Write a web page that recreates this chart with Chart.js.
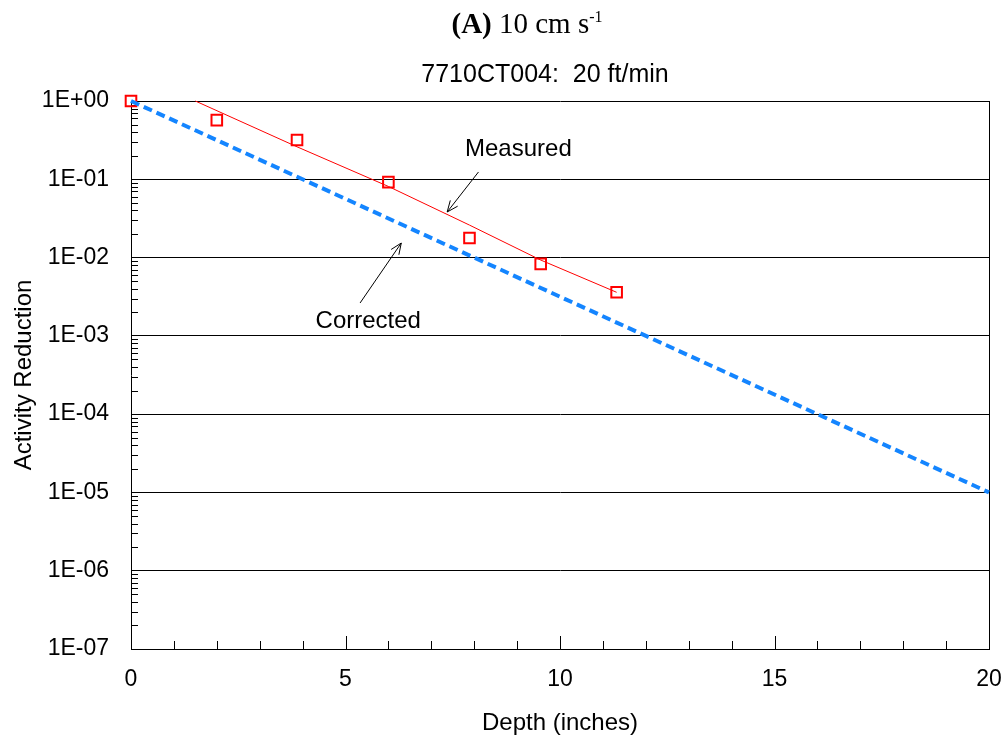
<!DOCTYPE html>
<html>
<head>
<meta charset="utf-8">
<script src="https://cdn.jsdelivr.net/npm/chart.js@4.4.0/dist/chart.umd.min.js"></script>
<style>
  html, body { margin: 0; padding: 0; background: #fff; overflow: hidden; }
  #wrap { position: relative; width: 1007px; height: 742px; }
  #chart { position: absolute; left: 0; top: 0; }
  .head { position: absolute; left: 0; white-space: nowrap; text-align: center; line-height: 1; color: #000; }
  #title { top: 9px; width: 1054px; font-family: "Liberation Serif", "Times New Roman", serif; font-size: 29px; }
  #title b { font-weight: bold; }
  #title .sup { font-size: 16px; position: relative; top: -11px; }
  #subtitle { top: 61px; width: 1090px; font-family: "Liberation Sans", Arial, sans-serif; font-size: 25px; }
</style>
</head>
<body>
<div id="wrap">
  <canvas id="chart" width="1007" height="742"></canvas>
  <div id="title" class="head"><b>(A)</b> 10 cm s<span class="sup">-1</span></div>
  <div id="subtitle" class="head">7710CT004:&nbsp; 20 ft/min</div>
</div>
<script>
// measured activity (squares)
const depthMeasured = [0, 2.0, 3.87, 6.0, 7.89, 9.55, 11.32];
const activityMeasured = [1.0, 0.57, 0.318, 0.092, 0.0178, 0.0083, 0.0036];

// fitted line through measured data (thin red)
const depthFit = [1.5, 3.87, 6.0, 7.89, 9.55, 11.32];
const activityFit = [1.0, 0.26, 0.081, 0.026, 0.0093, 0.0036];

// corrected curve (blue dashed)
const depthCorrected = [0, 20];
const activityCorrected = [1.0, 1e-5];

// axis ticks
const xTickValues = [0, 5, 10, 15, 20];
const yTickValues = [1e-7, 1e-6, 1e-5, 1e-4, 1e-3, 1e-2, 1e-1, 1];
const yTickLabels = ['1E-07', '1E-06', '1E-05', '1E-04', '1E-03', '1E-02', '1E-01', '1E+00'];

// annotation labels with arrows (data coordinates)
const noteText = ['Measured', 'Corrected'];
const noteTextX = [9.03, 5.53];
const noteTextY = [0.244, 0.00155];
const noteTailX = [8.10, 5.34];
const noteTailY = [0.124, 0.00263];
const noteTipX = [7.37, 6.30];
const noteTipY = [0.0382, 0.01535];

const sans = '"Liberation Sans", Arial, sans-serif';

function pts(xs, ys) {
    return xs.map((x, i) => ({ x: x, y: ys[i] }));
}

// inward ticks, right border, arrows and labels
const decorations = {
    id: 'decorations',
    beforeDatasetsDraw(chart) {
        const { ctx, chartArea: a, scales: { x, y } } = chart;
        ctx.save();
        ctx.strokeStyle = '#000';
        ctx.lineWidth = 1;
        ctx.beginPath();
        const r = Math.round(a.right) + 0.5;
        ctx.moveTo(r, a.top);
        ctx.lineTo(r, a.bottom);
        for (let v = 0; v <= 20; v++) {
            const px = Math.round(x.getPixelForValue(v)) + 0.5;
            const len = v % 5 === 0 ? 13 : 8;
            ctx.moveTo(px, a.bottom);
            ctx.lineTo(px, a.bottom - len);
        }
        for (let d = -7; d < 0; d++) {
            for (let k = 2; k <= 9; k++) {
                const py = Math.round(y.getPixelForValue(k * Math.pow(10, d))) + 0.5;
                ctx.moveTo(a.left, py);
                ctx.lineTo(a.left + 7, py);
            }
        }
        ctx.stroke();
        ctx.restore();
    },
    afterDatasetsDraw(chart) {
        const { ctx, scales: { x, y } } = chart;
        ctx.save();
        ctx.strokeStyle = '#000';
        ctx.fillStyle = '#000';
        ctx.lineWidth = 1;
        ctx.font = '24px ' + sans;
        ctx.textAlign = 'center';
        ctx.textBaseline = 'middle';
        noteText.forEach((t, i) => {
            ctx.fillText(t, x.getPixelForValue(noteTextX[i]), y.getPixelForValue(noteTextY[i]));
            const x0 = x.getPixelForValue(noteTailX[i]), y0 = y.getPixelForValue(noteTailY[i]);
            const x1 = x.getPixelForValue(noteTipX[i]), y1 = y.getPixelForValue(noteTipY[i]);
            const ang = Math.atan2(y1 - y0, x1 - x0);
            ctx.beginPath();
            ctx.moveTo(x0, y0);
            ctx.lineTo(x1, y1);
            ctx.moveTo(x1 - 12 * Math.cos(ang - 0.4), y1 - 12 * Math.sin(ang - 0.4));
            ctx.lineTo(x1, y1);
            ctx.lineTo(x1 - 12 * Math.cos(ang + 0.4), y1 - 12 * Math.sin(ang + 0.4));
            ctx.stroke();
        });
        ctx.restore();
    }
};

new Chart(document.getElementById('chart'), {
    type: 'scatter',
    data: {
        datasets: [
            {
                label: 'Corrected',
                data: pts(depthCorrected, activityCorrected),
                showLine: true,
                borderColor: '#1485FF',
                borderWidth: 4,
                borderDash: [9, 5],
                pointRadius: 0,
                clip: false,
                order: 0
            },
            {
                label: 'Measured fit',
                data: pts(depthFit, activityFit),
                showLine: true,
                borderColor: '#FF0000',
                borderWidth: 1,
                pointRadius: 0,
                clip: false,
                order: 1
            },
            {
                label: 'Measured',
                data: pts(depthMeasured, activityMeasured),
                showLine: false,
                pointStyle: 'rect',
                pointRadius: 7.5,
                pointBorderWidth: 2,
                borderColor: '#FF0000',
                backgroundColor: 'rgba(255,255,255,0)',
                clip: false,
                order: 2
            }
        ]
    },
    options: {
        responsive: false,
        animation: false,
        devicePixelRatio: 1,
        layout: { padding: { top: 101, right: 18, left: 0, bottom: 0 } },
        plugins: { legend: { display: false }, tooltip: { enabled: false } },
        scales: {
            x: {
                type: 'linear',
                min: 0,
                max: 20,
                afterBuildTicks: s => { s.ticks = xTickValues.map(v => ({ value: v })); },
                afterFit: s => { s.height = 93; },
                ticks: { color: '#000', font: { family: sans, size: 23 }, padding: 3, maxRotation: 0 },
                grid: { display: true, drawOnChartArea: false, drawTicks: true, tickLength: 14, tickColor: 'rgba(0,0,0,0)' },
                border: { color: '#000', width: 1 },
                title: { display: true, text: 'Depth (inches)', color: '#000', font: { family: sans, size: 24 }, padding: { top: 0, bottom: 4 } }
            },
            y: {
                type: 'logarithmic',
                min: 1e-7,
                max: 1,
                afterBuildTicks: s => { s.ticks = yTickValues.map(v => ({ value: v })); },
                afterFit: s => { s.width = 131; },
                ticks: { color: '#000', font: { family: sans, size: 23 }, padding: 22, callback: (v, i) => yTickLabels[i] },
                grid: { color: '#000', lineWidth: 1, drawTicks: false },
                border: { color: '#000', width: 1 },
                title: { display: true, text: 'Activity Reduction', color: '#000', font: { family: sans, size: 24 }, padding: { top: 10, bottom: 0 } }
            }
        }
    },
    plugins: [decorations]
});
</script>
</body>
</html>
